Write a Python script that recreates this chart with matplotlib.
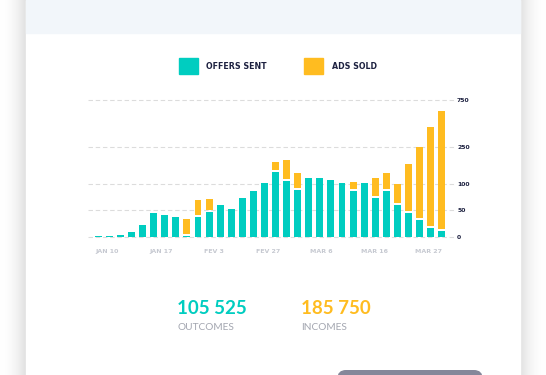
import matplotlib
matplotlib.use('Agg')

import numpy as np
import matplotlib.pyplot as plt
from matplotlib.patches import Rectangle, FancyBboxPatch

TEAL = '#00cdc0'
ORANGE = '#ffbc20'
NAVY = '#1d2140'

# data
offers_sent = [2, 2, 4, 10, 23, 45, 41, 38, 2.5, 38, 47, 60, 52, 74, 87, 105,
               150, 113, 89, 125, 125, 117, 105, 87, 105, 74, 87, 60, 45, 32, 17, 12]
ads_sold = [0, 0, 0, 0, 0, 0, 0, 0, 31, 32, 25, 0, 0, 0, 0, 0,
            40, 85, 57, 0, 0, 0, 0, 22, 0, 51, 59, 41, 137, 221, 449, 624]
date_labels = ['JAN 10', 'JAN 17', 'FEV 3', 'FEV 27', 'MAR 6', 'MAR 16', 'MAR 27']
y_ticks = [0, 50, 100, 250, 750]
outcomes = '105 525'
incomes = '185 750'

# piecewise axis: pixel height of each tick above the baseline
tick_px = [0, 27, 53, 90, 137]

def fwd(v):
    return np.interp(v, y_ticks, tick_px)

def inv(p):
    return np.interp(p, tick_px, y_ticks)

plt.rcParams['font.family'] = ['Lato', 'DejaVu Sans']
WIDE = ['DejaVu Sans']

W, H = 546, 375
fig = plt.figure(figsize=(W / 100, H / 100), dpi=100)

# background: page, card shadow, card, header band, button
bg = fig.add_axes([0, 0, 1, 1])
bg.set_xlim(0, W)
bg.set_ylim(H, 0)
bg.axis('off')
grad = np.linspace(0, 1, 60)
shade_l = np.dstack([1 - 0.12 * grad ** 2] * 3).reshape(1, -1, 3)
bg.imshow(shade_l, extent=(0, 26, H, 0), aspect='auto', zorder=0)
bg.imshow(shade_l[:, ::-1], extent=(520, W, H, 0), aspect='auto', zorder=0)
bg.add_patch(Rectangle((26, 0), 494, H, color='white', zorder=1))
bg.add_patch(Rectangle((26, 0), 494, 33, color='#f2f6fa', zorder=2))
bg.add_patch(FancyBboxPatch((346, 378.7), 128, 20, boxstyle='round,pad=8',
                            color='#85879a', zorder=2))

# legend
bg.add_patch(Rectangle((179, 58), 18.5, 16, color=TEAL, zorder=3))
bg.text(205.5, 66.5, 'OFFERS SENT', fontsize=5.7, fontweight='bold', color=NAVY,
        family=WIDE, va='center', ha='left', zorder=3)
bg.add_patch(Rectangle((304, 58), 19, 16, color=ORANGE, zorder=3))
bg.text(332, 66.5, 'ADS SOLD', fontsize=5.7, fontweight='bold', color=NAVY,
        family=WIDE, va='center', ha='left', zorder=3)

# totals
bg.text(177, 313.5, outcomes, fontsize=13.5, fontweight='bold', color=TEAL,
        va='baseline', ha='left', zorder=3)
bg.text(177.5, 330.5, 'OUTCOMES', fontsize=7.3, color='#a3a6b0',
        va='baseline', ha='left', zorder=3)
bg.text(301, 313.5, incomes, fontsize=13.5, fontweight='bold', color=ORANGE,
        va='baseline', ha='left', zorder=3)
bg.text(301.5, 330.5, 'INCOMES', fontsize=7.3, color='#a3a6b0',
        va='baseline', ha='left', zorder=3)

# chart
ax = fig.add_axes([88 / W, (H - 237.3) / H, (455 - 88) / W, 137 / H])
ax.set_facecolor('none')
ax.set_yscale('function', functions=(fwd, inv))
ax.set_ylim(0, 750)

x = np.arange(len(offers_sent))
ax.set_xlim(-0.93, 32.2)

for t in y_ticks:
    ax.axhline(t, color='#dcdcdc', lw=0.8, ls=(0, (4, 2.5)), zorder=0, clip_on=False)

offers = np.array(offers_sent, dtype=float)
ads = np.array(ads_sold, dtype=float)
ax.bar(x, offers, width=0.63, color=TEAL, zorder=2)
has_ads = ads > 0
bottom = inv(fwd(offers) + 2)
top = offers + ads
ax.bar(x[has_ads], (top - bottom)[has_ads], bottom=bottom[has_ads], width=0.63,
       color=ORANGE, zorder=2)

for s in ax.spines.values():
    s.set_visible(False)

ax.yaxis.tick_right()
ax.set_yticks(y_ticks)
ax.set_yticklabels([str(t) for t in y_ticks])
ax.yaxis.set_minor_locator(matplotlib.ticker.NullLocator())
ax.tick_params(axis='y', length=0, pad=1.5, labelsize=4.4, labelcolor=NAVY)
for lab in ax.get_yticklabels():
    lab.set_fontweight('bold')
    lab.set_family(WIDE)

ax.set_xticks(np.linspace(0.8, 29.8, len(date_labels)))
ax.set_xticklabels(date_labels)
ax.tick_params(axis='x', length=0, pad=8.5, labelsize=4.5, labelcolor='#c6c9d1')
for lab in ax.get_xticklabels():
    lab.set_fontweight('bold')
    lab.set_family(WIDE)

fig.savefig('out.png', dpi=100)
